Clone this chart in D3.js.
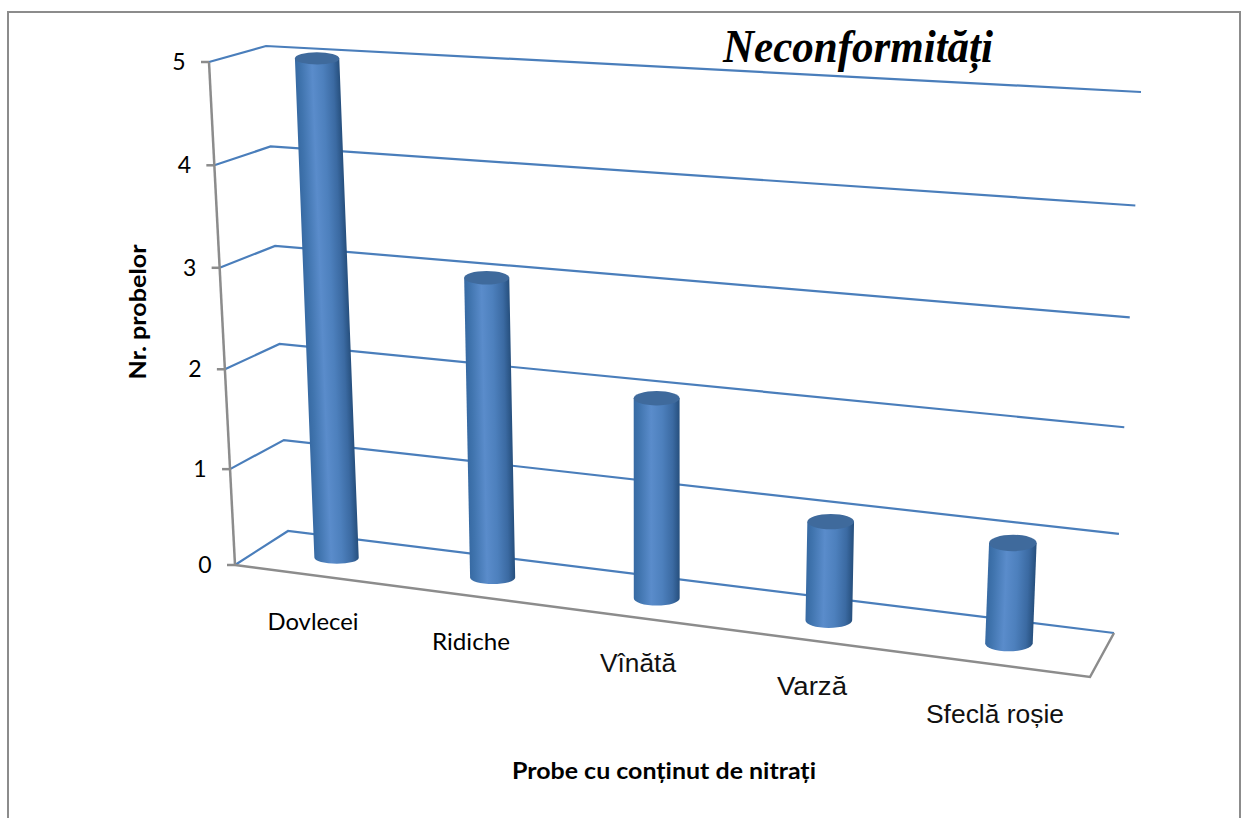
<!DOCTYPE html>
<html>
<head>
<meta charset="utf-8">
<script src="https://d3js.org/d3.v7.min.js"></script>
<style>
  html, body { margin: 0; padding: 0; background: #fff; }
  svg { display: block; }
  .grid { fill: none; stroke: #4a7ebb; stroke-width: 2.2; }
  .frame { fill: none; stroke: #8c8c8c; stroke-width: 2.5; }
  .calibri { font-family: Lato, "Open Sans", sans-serif; fill: #000; }
  .arial { font-family: "Liberation Sans", Arial, sans-serif; fill: #111; }
</style>
</head>
<body>
<svg id="chart" width="1244" height="818"></svg>
<script>
// data
const categories = ["Dovlecei", "Ridiche", "Vînătă", "Varză", "Sfeclă roșie"];
const values = [5, 3, 2, 1, 1];
const valueTicks = [0, 1, 2, 3, 4, 5];

// the 3D box as it appears on the page: [x, y] of each corner,
// bend is how much the value steps grow towards the top on that edge
const box = {
  frontLeft:  { bottom: [235, 565], top: [209, 62], bend: 1.03 },
  backLeft:   { bottom: [288, 531], top: [266, 46], bend: 1.04 },
  backRight:  { bottom: [1114, 633], top: [1141, 92], bend: 1.055 },
  frontRight: { bottom: [1090, 677], top: [1117, 114], bend: 1.055 }
};

// hand placed labels, they do not follow the axis in the original
const catLabelPos = [[313, 630], [471, 650], [638, 672], [812, 695], [995, 723]];
const catLabelClass = ["calibri", "calibri", "arial", "arial", "arial"];
const catLabelWidth = [91, 78, 76, 70, 138];

const svg = d3.select("#chart");
const defs = svg.append("defs");

// slots get wider to the right, the offset sets how fast
const slotOffset = 18.5;
const uScale = d3.scalePow().exponent(2)
  .domain([slotOffset, slotOffset + categories.length])
  .range([0, 1]);

const mix = (a, b, k) => [a[0] + (b[0] - a[0]) * k, a[1] + (b[1] - a[1]) * k];

// point on one vertical edge of the box
function edgePoint(edge, v) {
  const k = d3.scalePow().exponent(edge.bend).domain([0, 5]).range([0, 1])(v);
  return mix(edge.bottom, edge.top, k);
}

// u: along the floor 0-1, v: value, d: depth 0 front - 1 back
function project(u, v, d) {
  const fl = edgePoint(box.frontLeft, v);
  const bl = edgePoint(box.backLeft, v);
  const fr = edgePoint(box.frontRight, v);
  const br = edgePoint(box.backRight, v);
  return mix(mix(fl, bl, d), mix(fr, br, d), u);
}

const line = d3.line();

// outer border of the picture
svg.append("path")
  .attr("d", line([[8, 818], [8, 12], [1240, 12], [1240, 818]]))
  .attr("fill", "none")
  .attr("stroke", "#8c8c8c")
  .attr("stroke-width", 2);

// side wall and back wall lines
svg.append("g").selectAll("path")
  .data(valueTicks)
  .enter()
  .append("path")
  .attr("class", "grid")
  .attr("d", v => line([project(0, v, 0), project(0, v, 1), project(1, v, 1)]));

// floor edge at the right side
svg.append("path")
  .attr("class", "frame")
  .attr("d", line([project(0, 0, 0), project(1, 0, 0), project(1, 0, 1)]));

// value axis
svg.append("path")
  .attr("class", "frame")
  .attr("d", line([project(0, 0, 0), project(0, 5, 0)]));

const tick = svg.append("g").selectAll("g")
  .data(valueTicks)
  .enter()
  .append("g")
  .attr("transform", v => "translate(" + project(0, v, 0) + ")");

tick.append("line")
  .attr("class", "frame")
  .attr("x1", -8)
  .attr("x2", 0);

tick.append("text")
  .attr("class", "calibri")
  .attr("x", -30)
  .attr("y", 8)
  .attr("text-anchor", "middle")
  .attr("font-size", 23)
  .text(v => v);

// gradient running across the cylinder
const grad = defs.append("linearGradient")
  .attr("id", "bodyFill")
  .attr("x1", 0).attr("x2", 1).attr("y1", 0).attr("y2", 0);

[["0%", "#376aa3"], ["12%", "#4074ae"], ["38%", "#5a8ccb"], ["62%", "#4d80bd"], ["85%", "#3b6aa2"], ["100%", "#264f7d"]]
  .forEach(s => grad.append("stop").attr("offset", s[0]).attr("stop-color", s[1]));

// cylinders
const bars = svg.append("g").selectAll("g")
  .data(categories.map((c, i) => ({ name: c, value: values[i], u: uScale(slotOffset + i + 0.5) })))
  .enter()
  .append("g")
  .attr("transform", b => {
    const top = project(b.u, b.value, 0.5);
    const bottom = project(b.u, 0, 0.5);
    b.h = bottom[1] - top[1];
    b.rx = 22 + 2 * b.u;
    b.ry = 6 + 2.5 * b.u;
    const slant = Math.atan2(bottom[0] - top[0], b.h) * 180 / Math.PI;
    return "translate(" + top + ") skewX(" + slant + ")";
  });

bars.append("path")
  .attr("fill", "url(#bodyFill)")
  .attr("d", b => "M" + (-b.rx) + ",0 L" + (-b.rx) + "," + b.h +
    " A" + b.rx + "," + b.ry + " 0 0 0 " + b.rx + "," + b.h +
    " L" + b.rx + ",0 Z");

bars.append("ellipse")
  .attr("fill", "#3f6a9c")
  .attr("rx", b => b.rx)
  .attr("ry", b => b.ry);

// category labels
svg.append("g").selectAll("text")
  .data(categories)
  .enter()
  .append("text")
  .attr("class", (c, i) => catLabelClass[i])
  .attr("x", (c, i) => catLabelPos[i][0])
  .attr("y", (c, i) => catLabelPos[i][1])
  .attr("text-anchor", "middle")
  .attr("font-size", (c, i) => catLabelClass[i] == "arial" ? 26 : 23)
  .attr("textLength", (c, i) => catLabelWidth[i])
  .attr("lengthAdjust", "spacingAndGlyphs")
  .text(c => c);

// titles
svg.append("text")
  .attr("x", 858)
  .attr("y", 62)
  .attr("text-anchor", "middle")
  .attr("font-family", "'Liberation Serif', 'Times New Roman', serif")
  .attr("font-style", "italic")
  .attr("font-weight", "bold")
  .attr("font-size", 47)
  .attr("textLength", 270)
  .attr("lengthAdjust", "spacingAndGlyphs")
  .text("Neconformități");

svg.append("text")
  .attr("class", "calibri")
  .attr("x", 664)
  .attr("y", 779)
  .attr("text-anchor", "middle")
  .attr("font-weight", "bold")
  .attr("font-size", 23)
  .attr("textLength", 304)
  .attr("lengthAdjust", "spacingAndGlyphs")
  .text("Probe cu conținut de nitrați");

svg.append("text")
  .attr("class", "calibri")
  .attr("transform", "translate(146,312) rotate(-90)")
  .attr("text-anchor", "middle")
  .attr("font-weight", "bold")
  .attr("font-size", 23)
  .attr("textLength", 135)
  .attr("lengthAdjust", "spacingAndGlyphs")
  .text("Nr. probelor");
</script>
</body>
</html>
